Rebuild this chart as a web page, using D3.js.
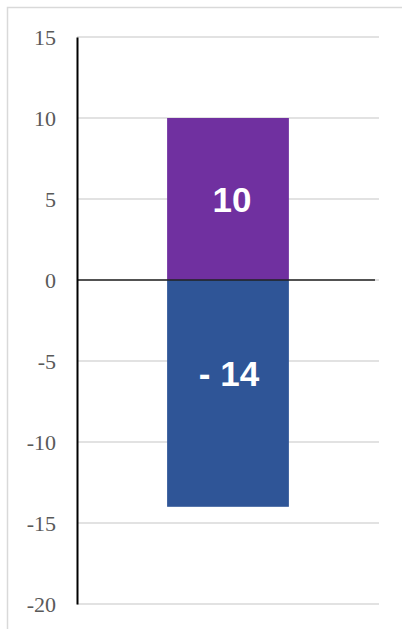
<!DOCTYPE html>
<html>
<head>
<meta charset="utf-8">
<script src="https://cdn.jsdelivr.net/npm/d3@7"></script>
<style>
  html, body { margin: 0; padding: 0; background: #fff; }
  svg { display: block; }
  .y-axis text { font-family: "Liberation Serif", "Times New Roman", serif; font-size: 22px; fill: #595959; }
</style>
</head>
<body>
<svg id="chart" width="402" height="629"></svg>
<script>
// Two stacked segments on a single category: a gain above zero and a loss below.
const categories = ["Total"];
const seriesNames = ["Gain", "Loss"];
const seriesValues = [10, -14];
const seriesColors = ["#7030A0", "#2F5597"];
const tickValues = [-20, -15, -10, -5, 0, 5, 10, 15];

const W = 402, H = 629;
const plot = { left: 77, right: 379, top: 37, bottom: 604 };

const svg = d3.select("#chart");

// Outer chart frame
svg.append("rect")
  .attr("x", 7.5).attr("y", 7.5)
  .attr("width", W + 10).attr("height", H + 10)
  .attr("fill", "none")
  .attr("stroke", "#d9d9d9")
  .attr("stroke-width", 1.5);

const y = d3.scaleLinear().domain([-20, 15]).range([plot.bottom, plot.top]);
const x = d3.scaleBand().domain(categories).range([plot.left, plot.right]).paddingInner(0).paddingOuter(0.74);

// Horizontal gridlines
svg.append("g")
  .selectAll("line")
  .data(tickValues)
  .join("line")
  .attr("x1", plot.left).attr("x2", plot.right)
  .attr("y1", d => y(d)).attr("y2", d => y(d))
  .attr("stroke", "#d9d9d9")
  .attr("stroke-width", 1.5);

// Bars: each segment runs from zero to its value
const segments = seriesValues.map((v, i) => ({ cat: categories[0], name: seriesNames[i], value: v, color: seriesColors[i] }));

svg.append("g")
  .selectAll("rect")
  .data(segments)
  .join("rect")
  .attr("x", d => x(d.cat))
  .attr("width", x.bandwidth())
  .attr("y", d => y(Math.max(0, d.value)))
  .attr("height", d => Math.abs(y(d.value) - y(0)))
  .attr("fill", d => d.color);

// Zero baseline
svg.append("line")
  .attr("x1", plot.left).attr("x2", plot.right - 4)
  .attr("y1", y(0)).attr("y2", y(0))
  .attr("stroke", "#222")
  .attr("stroke-width", 1.5);

// Y axis
const yAxis = d3.axisLeft(y).tickValues(tickValues).tickSize(0).tickPadding(21).tickFormat(d => String(d));
const gy = svg.append("g").attr("class", "y-axis").attr("transform", `translate(${plot.left},0)`).call(yAxis);
gy.attr("font-family", null).attr("font-size", null);
gy.select(".domain").attr("stroke", "#000").attr("stroke-width", 2);
gy.selectAll("text").attr("fill", null);

// Value labels inside the bars
const fmt = v => v < 0 ? "- " + Math.abs(v) : String(v);
svg.append("g")
  .selectAll("text")
  .data(segments)
  .join("text")
  .attr("x", d => x(d.cat) + x.bandwidth() / 2 + (d.value > 0 ? 4 : 1))
  .attr("y", d => y(d.value / 2) + (d.value > 0 ? 0 : -20))
  .attr("dy", "0.36em")
  .attr("text-anchor", "middle")
  .attr("fill", "#fff")
  .style("font-family", "'Liberation Sans', Arial, sans-serif")
  .style("font-weight", "bold")
  .style("font-size", "35px")
  .text(d => fmt(d.value));
</script>
</body>
</html>
